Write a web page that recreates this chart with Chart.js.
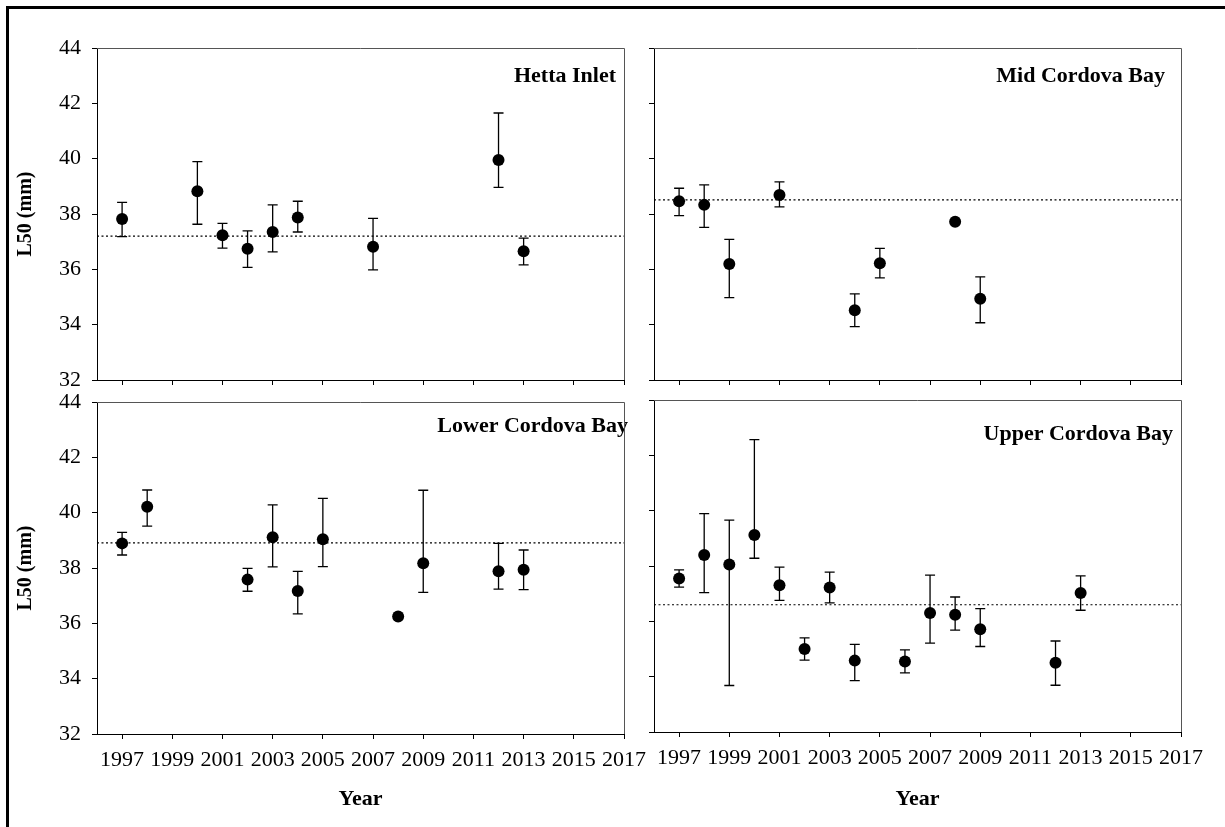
<!DOCTYPE html>
<html>
<head>
<meta charset="utf-8">
<script src="https://cdn.jsdelivr.net/npm/chart.js@4.4.1/dist/chart.umd.min.js"></script>
<style>
  body { margin: 0; background: #fff; width: 1225px; height: 827px; overflow: hidden; position: relative; }
  .frame { position: absolute; left: 6px; top: 6px; width: 1300px; height: 900px; border: 3px solid #000; }
  canvas { position: absolute; }
</style>
</head>
<body>
<div class="frame"></div>
<canvas id="hetta" width="660" height="400" style="left:0;top:0"></canvas>
<canvas id="mid" width="595" height="400" style="left:630px;top:0"></canvas>
<canvas id="lower" width="660" height="437" style="left:0;top:390px"></canvas>
<canvas id="upper" width="595" height="437" style="left:630px;top:390px"></canvas>
<script>
// tick labels
const yearTicks = [1997, 1999, 2001, 2003, 2005, 2007, 2009, 2011, 2013, 2015, 2017];
const panelNames = ['Hetta Inlet', 'Mid Cordova Bay', 'Lower Cordova Bay', 'Upper Cordova Bay'];
const panelMeans = [37.2, 38.51, 38.91, 36.6];

// Hetta Inlet
const hettaYears = [1997, 2000, 2001, 2002, 2003, 2004, 2007, 2012, 2013];
const hettaL50 = [37.82, 38.82, 37.23, 36.74, 37.35, 37.87, 36.82, 39.95, 36.65];
const hettaLo = [37.18, 37.63, 36.77, 36.07, 36.63, 37.35, 35.98, 38.96, 36.16];
const hettaHi = [38.42, 39.89, 37.66, 37.39, 38.33, 38.46, 37.84, 41.65, 37.13];

// Mid Cordova Bay
const midYears = [1997, 1998, 1999, 2001, 2004, 2005, 2008, 2009];
const midL50 = [38.46, 38.33, 36.19, 38.69, 34.52, 36.22, 37.72, 34.94];
const midLo = [37.94, 37.52, 34.98, 38.26, 33.93, 35.69, null, 34.07];
const midHi = [38.93, 39.05, 37.08, 39.16, 35.11, 36.76, null, 35.73];

// Lower Cordova Bay
const lowerYears = [1997, 1998, 2002, 2003, 2004, 2005, 2008, 2009, 2012, 2013];
const lowerL50 = [38.89, 40.21, 37.58, 39.11, 37.17, 39.04, 36.25, 38.17, 37.88, 37.94];
const lowerLo = [38.47, 39.51, 37.16, 38.04, 36.34, 38.05, null, 37.12, 37.24, 37.22];
const lowerHi = [39.29, 40.82, 37.99, 40.28, 37.88, 40.52, null, 40.81, 38.89, 38.65];

// Upper Cordova Bay
const upperYears = [1997, 1998, 1999, 2000, 2001, 2002, 2003, 2004, 2006, 2007, 2008, 2009, 2012, 2013];
const upperL50 = [37.55, 38.4, 38.05, 39.12, 37.3, 35.0, 37.22, 34.58, 34.55, 36.3, 36.24, 35.71, 34.5, 37.02];
const upperLo = [37.24, 37.04, 33.68, 38.28, 36.76, 34.6, 36.67, 33.86, 34.14, 35.21, 35.68, 35.09, 33.69, 36.4];
const upperHi = [37.86, 39.89, 39.66, 42.57, 37.96, 35.4, 37.78, 35.17, 34.97, 37.67, 36.88, 36.46, 35.29, 37.64];

Chart.defaults.font.family = '"Liberation Serif", "Times New Roman", serif';
Chart.defaults.font.size = 22;
Chart.defaults.color = '#000';

// error bars with caps, drawn under the points
const errorBars = {
  id: 'errorBars',
  beforeDatasetsDraw(chart) {
    const {ctx, scales: {x, y}} = chart;
    chart.data.datasets.forEach(ds => {
      if (!ds.errLo) return;
      ctx.save();
      ctx.strokeStyle = '#000';
      ctx.lineWidth = 1.3;
      ds.data.forEach((p, i) => {
        if (ds.errLo[i] == null) return;
        const px = x.getPixelForValue(p.x);
        const y1 = y.getPixelForValue(ds.errLo[i]);
        const y2 = y.getPixelForValue(ds.errHi[i]);
        ctx.beginPath();
        ctx.moveTo(px, y1); ctx.lineTo(px, y2);
        ctx.moveTo(px - 5, y1); ctx.lineTo(px + 5, y1);
        ctx.moveTo(px - 5, y2); ctx.lineTo(px + 5, y2);
        ctx.stroke();
      });
      ctx.restore();
    });
  }
};

const panelLabel = {
  id: 'panelLabel',
  afterDatasetsDraw(chart, args, opts) {
    const {ctx, chartArea} = chart;
    ctx.save();
    ctx.font = 'bold 22px "Liberation Serif", serif';
    ctx.fillStyle = '#000';
    ctx.textAlign = 'right';
    ctx.textBaseline = 'alphabetic';
    ctx.fillText(opts.text, chartArea.right + opts.dx, chartArea.top + opts.dy);
    ctx.restore();
  }
};

// top and right sides of the plot box
const boxFrame = {
  id: 'boxFrame',
  afterDraw(chart) {
    const {ctx, chartArea: a} = chart;
    ctx.save();
    ctx.strokeStyle = '#555';
    ctx.lineWidth = 1;
    ctx.beginPath();
    ctx.moveTo(a.left, a.top + 0.5);
    ctx.lineTo(a.right + 0.5, a.top + 0.5);
    ctx.lineTo(a.right + 0.5, a.bottom);
    ctx.stroke();
    ctx.restore();
  }
};

function makePanel(id, idx, years, l50, lo, hi, box) {
  new Chart(document.getElementById(id), {
    type: 'scatter',
    data: {
      datasets: [
        {
          data: [{x: 1996, y: panelMeans[idx]}, {x: 2017, y: panelMeans[idx]}],
          showLine: true,
          borderColor: '#000',
          borderWidth: 1.2,
          borderDash: [2, 2.5],
          pointRadius: 0
        },
        {
          data: years.map((yr, i) => ({x: yr, y: l50[i]})),
          errLo: lo,
          errHi: hi,
          pointRadius: 6,
          pointBackgroundColor: '#000',
          pointBorderWidth: 0
        }
      ]
    },
    options: {
      responsive: false,
      animation: false,
      layout: {padding: box.pad},
      plugins: {
        legend: {display: false},
        tooltip: {enabled: false},
        panelLabel: {text: panelNames[idx], dx: box.dx, dy: box.dy}
      },
      scales: {
        x: {
          type: 'linear',
          min: 1996,
          max: 2017,
          afterBuildTicks: ax => { ax.ticks = yearTicks.map(v => ({value: v})); },
          afterFit: ax => {
            ax.height = box.xHeight;
            ax.paddingLeft = 0;
            ax.paddingRight = 0;
          },
          grid: {drawOnChartArea: false, tickLength: 5, color: '#000'},
          border: {color: '#000'},
          ticks: {display: box.showX, padding: 8, autoSkip: false, maxRotation: 0, callback: v => String(v)},
          title: {display: box.showX, text: 'Year', font: {weight: 'bold', size: 22}, padding: {bottom: 14}}
        },
        y: {
          min: 32,
          max: 44,
          afterFit: ax => {
            ax.width = box.yWidth;
            ax.paddingTop = 0;
            ax.paddingBottom = 0;
          },
          grid: {drawOnChartArea: false, tickLength: 5, color: '#000'},
          border: {color: '#000'},
          ticks: {display: box.showY, stepSize: 2, padding: 11},
          title: {display: box.showY, text: 'L50 (mm)', font: {weight: 'bold', size: 20}, padding: {top: 14}}
        }
      }
    },
    plugins: [errorBars, panelLabel, boxFrame]
  });
}

makePanel('hetta', 0, hettaYears, hettaL50, hettaLo, hettaHi,
  {pad: {top: 48, right: 36}, yWidth: 97, xHeight: 20, showX: false, showY: true, dx: -8, dy: 33.5});
makePanel('mid', 1, midYears, midL50, midLo, midHi,
  {pad: {top: 48, right: 44}, yWidth: 24, xHeight: 20, showX: false, showY: false, dx: -16, dy: 34});
makePanel('lower', 2, lowerYears, lowerL50, lowerLo, lowerHi,
  {pad: {top: 12, right: 36}, yWidth: 97, xHeight: 93, showX: true, showY: true, dx: 4, dy: 30});
makePanel('upper', 3, upperYears, upperL50, upperLo, upperHi,
  {pad: {top: 10, right: 44}, yWidth: 24, xHeight: 95, showX: true, showY: false, dx: -8, dy: 40});
</script>
</body>
</html>
